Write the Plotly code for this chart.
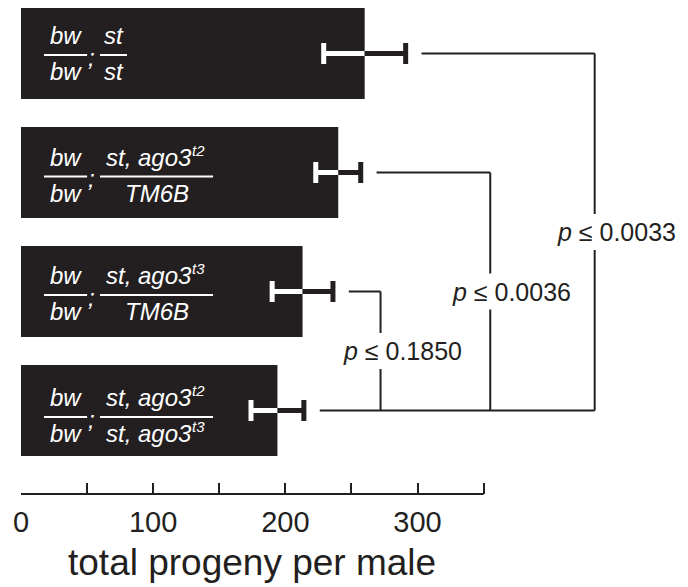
import plotly.graph_objects as go

# ---- data -------------------------------------------------------------
# genotype of each row: second chromosome (bw/bw) ; third chromosome
chr2_top = ["bw", "bw", "bw", "bw"]
chr2_bottom = ["bw", "bw", "bw", "bw"]
chr3_top = ["st", "st, ago3", "st, ago3", "st, ago3"]
chr3_top_allele = ["", "t2", "t3", "t2"]
chr3_bottom = ["st", "TM6B", "TM6B", "st, ago3"]
chr3_bottom_allele = ["", "", "", "t3"]

progeny_mean = [260, 240, 213, 194]
progeny_err = [31, 17, 23, 20]

# comparisons of rows 0..2 against the trans-heterozygote in row 3
compare_rows = [0, 1, 2]
compare_ref = 3
p_values = ["0.0033", "0.0036", "0.1850"]

major_ticks = [0, 100, 200, 300]
minor_ticks = [50, 150, 250, 350]
tick_text = ["0", "100", "200", "300"]

# ---- styling / layout constants --------------------------------------
DARK = "#231f20"
FONT = "Liberation Sans, Arial, Helvetica, sans-serif"
PX_PER_ROW = 119.0                  # vertical pixels between row centres
bracket_x = [434, 355, 272]         # x of each comparison's vertical rule
bracket_gap = 12                    # space between error cap and bracket
label_gap = 18 / PX_PER_ROW         # half-height of the break around a p label
frac_shift_px = [1.5, 4, 3.5, 6.5]  # fraction rule offset below row centre
chr2_rule = (17.4, 50.0)
semicolon_x = 53.5
chr3_rule_start = 59.8
chr3_rule_end = [80.2, 145.3, 145.3, 145.3]
allele_join_x = 130.5               # where the allele superscript begins
TOP_SHIFT, BOTTOM_SHIFT = 4, -32    # box-bottom offsets of numerator/denominator
SUP_RAISE = 12                      # superscript lift above its text line

rows = list(range(len(progeny_mean)))
axis_end = max(minor_ticks + major_ticks)

fig = go.Figure()

# bars
fig.add_trace(go.Bar(
    x=progeny_mean, y=rows, orientation="h", width=0.765,
    marker=dict(color=DARK, line=dict(width=0)),
    hoverinfo="skip",
))

# error bars: white inside the bar, dark outside
lo = [m - e for m, e in zip(progeny_mean, progeny_err)]
hi = [m + e for m, e in zip(progeny_mean, progeny_err)]
wx, wy, dx, dy = [], [], [], []
for i, m in enumerate(progeny_mean):
    wx += [lo[i], m, None]
    wy += [i, i, None]
    dx += [m, hi[i], None]
    dy += [i, i, None]
fig.add_trace(go.Scatter(x=wx, y=wy, mode="lines",
                         line=dict(color="white", width=5), hoverinfo="skip"))
fig.add_trace(go.Scatter(x=dx, y=dy, mode="lines",
                         line=dict(color=DARK, width=5), hoverinfo="skip"))
fig.add_trace(go.Scatter(x=lo, y=rows, mode="markers", hoverinfo="skip",
                         marker=dict(symbol="line-ns", size=15,
                                     line=dict(color="white", width=5))))
fig.add_trace(go.Scatter(x=hi, y=rows, mode="markers", hoverinfo="skip",
                         marker=dict(symbol="line-ns", size=15,
                                     line=dict(color=DARK, width=5))))

shapes = []
annotations = []

# comparison brackets with p-value labels
line_style = dict(color=DARK, width=2)
ref_start = hi[compare_ref] + bracket_gap
for k, r in enumerate(compare_rows):
    bx = bracket_x[k]
    start = hi[r] + bracket_gap
    mid = (r + compare_ref) / 2
    shapes.append(dict(type="line", xref="x", yref="y", x0=start, x1=bx,
                       y0=r, y1=r, line=line_style))
    shapes.append(dict(type="line", xref="x", yref="y", x0=bx, x1=bx,
                       y0=r, y1=mid - label_gap, line=line_style))
    shapes.append(dict(type="line", xref="x", yref="y", x0=bx, x1=bx,
                       y0=mid + label_gap, y1=compare_ref, line=line_style))
    annotations.append(dict(
        x=bx, y=mid, xref="x", yref="y", xanchor="left", yanchor="middle",
        xshift=-40, showarrow=False,
        text="<i>p</i> ≤ " + p_values[k],
        font=dict(family=FONT, size=25, color=DARK)))
shapes.append(dict(type="line", xref="x", yref="y", x0=ref_start,
                   x1=max(bracket_x), y0=compare_ref, y1=compare_ref,
                   line=line_style))

# genotype labels drawn as stacked fractions inside the bars
gfont = dict(family=FONT, size=24, color="white")
sfont = dict(family=FONT, size=15, color="white")


def genotype_text(xc, yl, text, allele, shift):
    """One fraction term; an allele name is set as a separate superscript."""
    if allele:
        annotations.append(dict(x=allele_join_x, y=yl, xref="x", yref="y",
                                xanchor="right", yanchor="bottom",
                                yshift=shift, showarrow=False,
                                text="<i>" + text + "</i>", font=gfont))
        annotations.append(dict(x=allele_join_x, y=yl, xref="x", yref="y",
                                xanchor="left", yanchor="bottom", xshift=-4,
                                yshift=shift + SUP_RAISE, showarrow=False,
                                text="<i>" + allele + "</i>", font=sfont))
    else:
        annotations.append(dict(x=xc, y=yl, xref="x", yref="y",
                                xanchor="center", yanchor="bottom",
                                yshift=shift, showarrow=False,
                                text="<i>" + text + "</i>", font=gfont))


for i in rows:
    yl = i + frac_shift_px[i] / PX_PER_ROW
    shapes.append(dict(type="line", xref="x", yref="y",
                       x0=chr2_rule[0], x1=chr2_rule[1], y0=yl, y1=yl,
                       line=dict(color="white", width=2)))
    shapes.append(dict(type="line", xref="x", yref="y",
                       x0=chr3_rule_start, x1=chr3_rule_end[i], y0=yl, y1=yl,
                       line=dict(color="white", width=2)))
    c2 = (chr2_rule[0] + chr2_rule[1]) / 2
    c3 = (chr3_rule_start + chr3_rule_end[i]) / 2
    genotype_text(c2, yl, chr2_top[i], "", TOP_SHIFT)
    genotype_text(c2, yl, chr2_bottom[i], "", BOTTOM_SHIFT)
    genotype_text(c3, yl, chr3_top[i], chr3_top_allele[i], TOP_SHIFT)
    genotype_text(c3, yl, chr3_bottom[i], chr3_bottom_allele[i], BOTTOM_SHIFT)
    annotations.append(dict(x=semicolon_x, y=yl, xref="x", yref="y",
                            xanchor="center", yanchor="middle", yshift=-2,
                            showarrow=False, text="<i>;</i>", font=gfont))

# axis baseline spanning only the ticked range
shapes.append(dict(type="line", xref="x", yref="paper", x0=0,
                   x1=axis_end, y0=0, y1=0,
                   line=dict(color=DARK, width=2)))

# axis title centred under the ticked range
annotations.append(dict(
    x=axis_end / 2, y=0, xref="x", yref="paper",
    xanchor="center", yanchor="middle", yshift=-68, showarrow=False,
    text="total progeny per male",
    font=dict(family=FONT, size=37, color=DARK)))

fig.update_layout(
    width=688, height=587,
    margin=dict(l=21, r=0, t=0, b=93),
    paper_bgcolor="white", plot_bgcolor="white",
    showlegend=False,
    shapes=shapes, annotations=annotations,
    xaxis=dict(range=[0, 504.6], tickmode="array", tickvals=major_ticks,
               ticktext=tick_text, ticks="inside", ticklen=11, tickwidth=2,
               tickcolor=DARK, ticklabelstandoff=8,
               minor=dict(tickmode="array", tickvals=minor_ticks,
                          ticks="inside", ticklen=11, tickwidth=2,
                          tickcolor=DARK, showgrid=False),
               showgrid=False, zeroline=False, showline=False,
               tickfont=dict(family=FONT, size=29, color=DARK),
               fixedrange=True),
    yaxis=dict(range=[3.7017, -0.4496], visible=False, fixedrange=True),
)

fig.write_html("out.html")
